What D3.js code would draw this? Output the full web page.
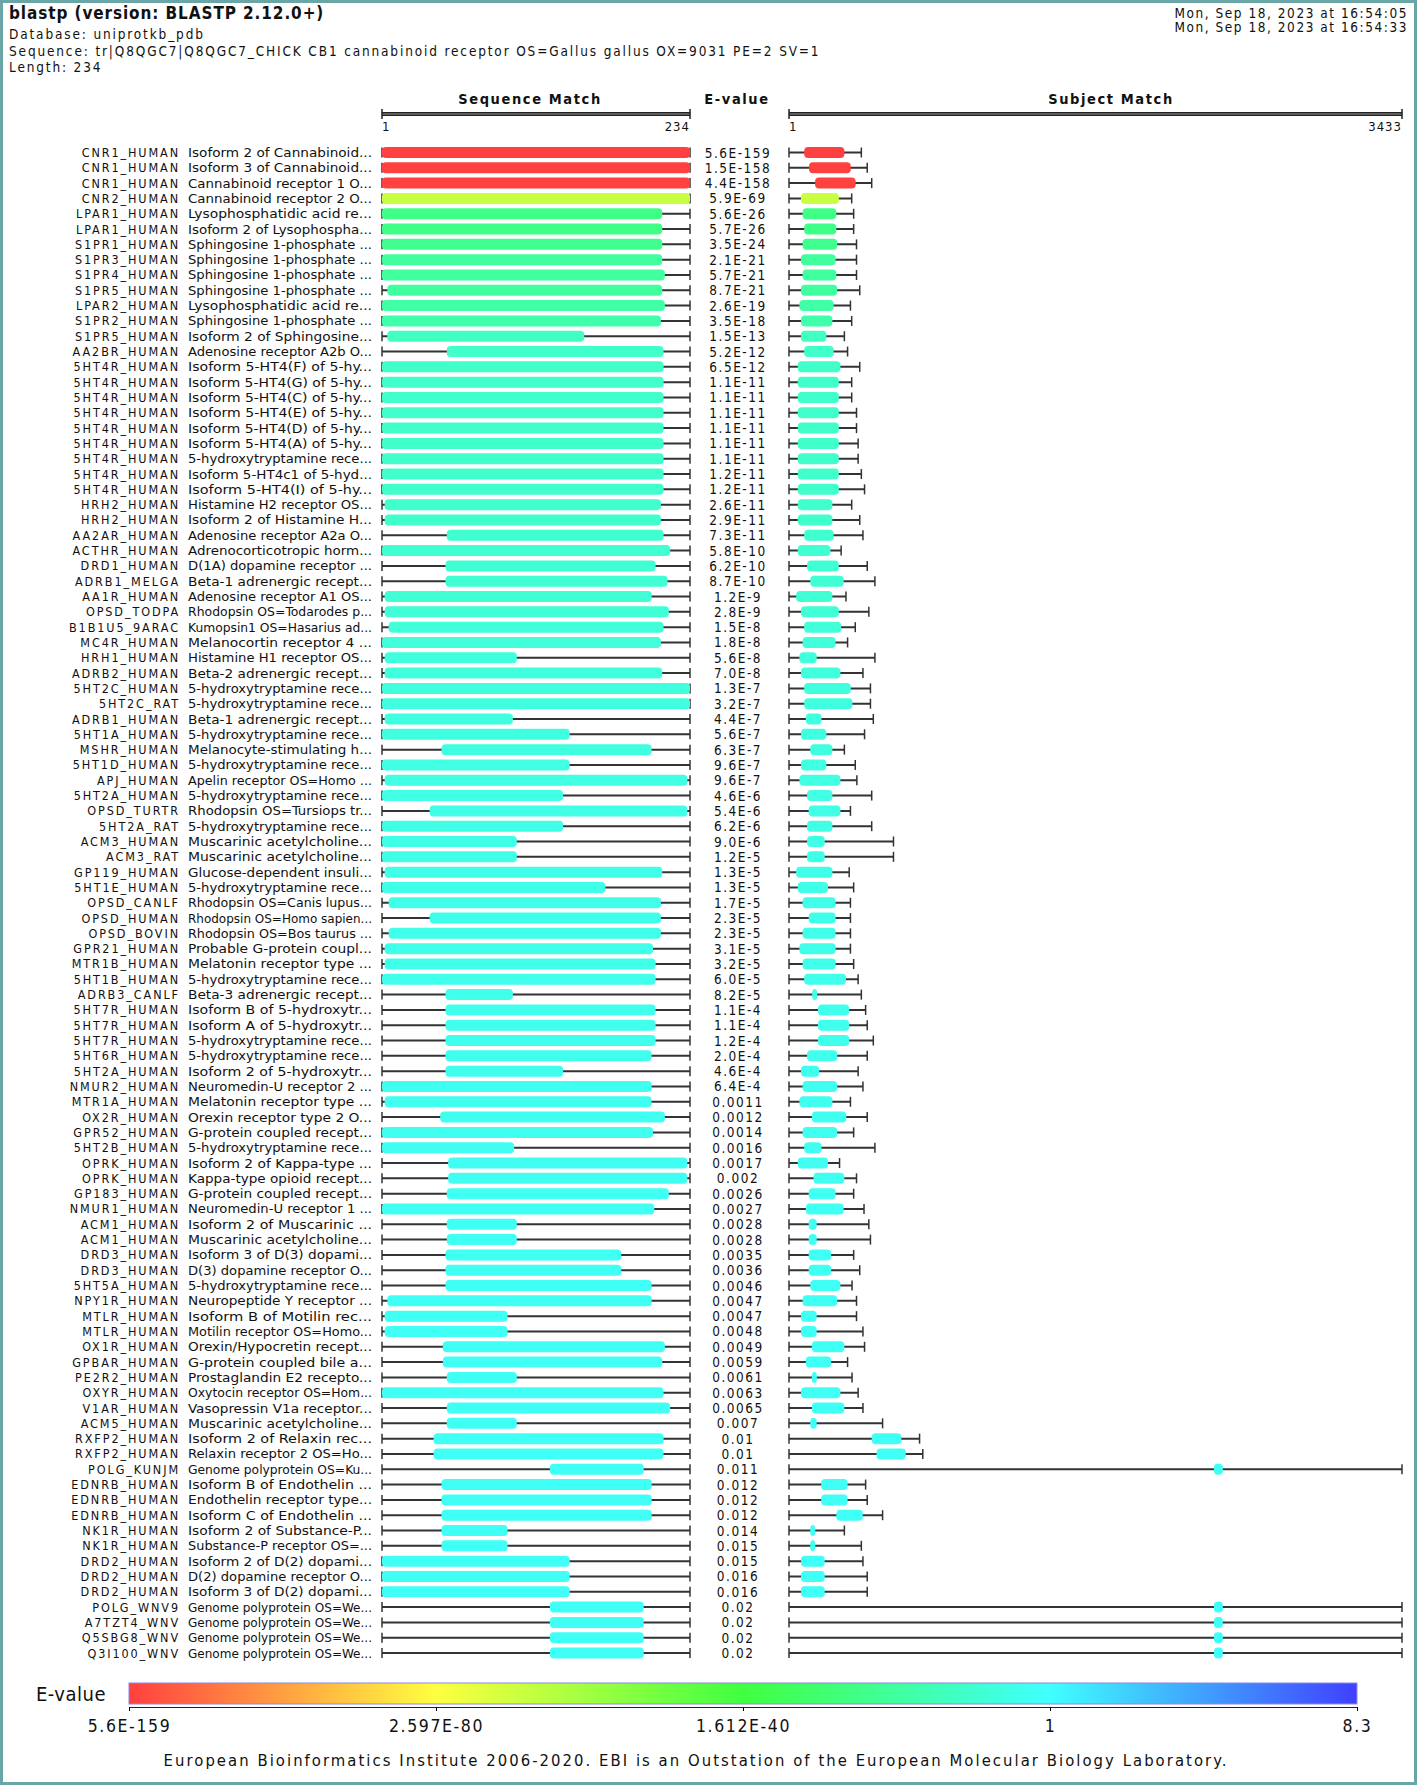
<!DOCTYPE html>
<html>
<head>
<meta charset="utf-8">
<script src="https://cdn.jsdelivr.net/npm/d3@7"></script>
<style>
  body { margin: 0; background: #fff; }
  svg text { font-family: "DejaVu Sans Condensed", "DejaVu Sans", sans-serif; font-stretch: condensed; fill: #111; }
</style>
</head>
<body>
<svg id="chart" width="1417" height="1785"></svg>
<script>
// hit table, one entry per row
const ids = ["CNR1_HUMAN","CNR1_HUMAN","CNR1_HUMAN","CNR2_HUMAN","LPAR1_HUMAN","LPAR1_HUMAN","S1PR1_HUMAN","S1PR3_HUMAN","S1PR4_HUMAN","S1PR5_HUMAN",
  "LPAR2_HUMAN","S1PR2_HUMAN","S1PR5_HUMAN","AA2BR_HUMAN","5HT4R_HUMAN","5HT4R_HUMAN","5HT4R_HUMAN","5HT4R_HUMAN","5HT4R_HUMAN","5HT4R_HUMAN",
  "5HT4R_HUMAN","5HT4R_HUMAN","5HT4R_HUMAN","HRH2_HUMAN","HRH2_HUMAN","AA2AR_HUMAN","ACTHR_HUMAN","DRD1_HUMAN","ADRB1_MELGA","AA1R_HUMAN",
  "OPSD_TODPA","B1B1U5_9ARAC","MC4R_HUMAN","HRH1_HUMAN","ADRB2_HUMAN","5HT2C_HUMAN","5HT2C_RAT","ADRB1_HUMAN","5HT1A_HUMAN","MSHR_HUMAN",
  "5HT1D_HUMAN","APJ_HUMAN","5HT2A_HUMAN","OPSD_TURTR","5HT2A_RAT","ACM3_HUMAN","ACM3_RAT","GP119_HUMAN","5HT1E_HUMAN","OPSD_CANLF",
  "OPSD_HUMAN","OPSD_BOVIN","GPR21_HUMAN","MTR1B_HUMAN","5HT1B_HUMAN","ADRB3_CANLF","5HT7R_HUMAN","5HT7R_HUMAN","5HT7R_HUMAN","5HT6R_HUMAN",
  "5HT2A_HUMAN","NMUR2_HUMAN","MTR1A_HUMAN","OX2R_HUMAN","GPR52_HUMAN","5HT2B_HUMAN","OPRK_HUMAN","OPRK_HUMAN","GP183_HUMAN","NMUR1_HUMAN",
  "ACM1_HUMAN","ACM1_HUMAN","DRD3_HUMAN","DRD3_HUMAN","5HT5A_HUMAN","NPY1R_HUMAN","MTLR_HUMAN","MTLR_HUMAN","OX1R_HUMAN","GPBAR_HUMAN",
  "PE2R2_HUMAN","OXYR_HUMAN","V1AR_HUMAN","ACM5_HUMAN","RXFP2_HUMAN","RXFP2_HUMAN","POLG_KUNJM","EDNRB_HUMAN","EDNRB_HUMAN","EDNRB_HUMAN",
  "NK1R_HUMAN","NK1R_HUMAN","DRD2_HUMAN","DRD2_HUMAN","DRD2_HUMAN","POLG_WNV9","A7TZT4_WNV","Q5SBG8_WNV","Q3I100_WNV"];
const descs = ["Isoform 2 of Cannabinoid...","Isoform 3 of Cannabinoid...","Cannabinoid receptor 1 O...","Cannabinoid receptor 2 O...","Lysophosphatidic acid re...",
  "Isoform 2 of Lysophospha...","Sphingosine 1-phosphate ...","Sphingosine 1-phosphate ...","Sphingosine 1-phosphate ...","Sphingosine 1-phosphate ...",
  "Lysophosphatidic acid re...","Sphingosine 1-phosphate ...","Isoform 2 of Sphingosine...","Adenosine receptor A2b O...","Isoform 5-HT4(F) of 5-hy...",
  "Isoform 5-HT4(G) of 5-hy...","Isoform 5-HT4(C) of 5-hy...","Isoform 5-HT4(E) of 5-hy...","Isoform 5-HT4(D) of 5-hy...","Isoform 5-HT4(A) of 5-hy...",
  "5-hydroxytryptamine rece...","Isoform 5-HT4c1 of 5-hyd...","Isoform 5-HT4(I) of 5-hy...","Histamine H2 receptor OS...","Isoform 2 of Histamine H...",
  "Adenosine receptor A2a O...","Adrenocorticotropic horm...","D(1A) dopamine receptor ...","Beta-1 adrenergic recept...","Adenosine receptor A1 OS...",
  "Rhodopsin OS=Todarodes p...","Kumopsin1 OS=Hasarius ad...","Melanocortin receptor 4 ...","Histamine H1 receptor OS...","Beta-2 adrenergic recept...",
  "5-hydroxytryptamine rece...","5-hydroxytryptamine rece...","Beta-1 adrenergic recept...","5-hydroxytryptamine rece...","Melanocyte-stimulating h...",
  "5-hydroxytryptamine rece...","Apelin receptor OS=Homo ...","5-hydroxytryptamine rece...","Rhodopsin OS=Tursiops tr...","5-hydroxytryptamine rece...",
  "Muscarinic acetylcholine...","Muscarinic acetylcholine...","Glucose-dependent insuli...","5-hydroxytryptamine rece...","Rhodopsin OS=Canis lupus...",
  "Rhodopsin OS=Homo sapien...","Rhodopsin OS=Bos taurus ...","Probable G-protein coupl...","Melatonin receptor type ...","5-hydroxytryptamine rece...",
  "Beta-3 adrenergic recept...","Isoform B of 5-hydroxytr...","Isoform A of 5-hydroxytr...","5-hydroxytryptamine rece...","5-hydroxytryptamine rece...",
  "Isoform 2 of 5-hydroxytr...","Neuromedin-U receptor 2 ...","Melatonin receptor type ...","Orexin receptor type 2 O...","G-protein coupled recept...",
  "5-hydroxytryptamine rece...","Isoform 2 of Kappa-type ...","Kappa-type opioid recept...","G-protein coupled recept...","Neuromedin-U receptor 1 ...",
  "Isoform 2 of Muscarinic ...","Muscarinic acetylcholine...","Isoform 3 of D(3) dopami...","D(3) dopamine receptor O...","5-hydroxytryptamine rece...",
  "Neuropeptide Y receptor ...","Isoform B of Motilin rec...","Motilin receptor OS=Homo...","Orexin/Hypocretin recept...","G-protein coupled bile a...",
  "Prostaglandin E2 recepto...","Oxytocin receptor OS=Hom...","Vasopressin V1a receptor...","Muscarinic acetylcholine...","Isoform 2 of Relaxin rec...",
  "Relaxin receptor 2 OS=Ho...","Genome polyprotein OS=Ku...","Isoform B of Endothelin ...","Endothelin receptor type...","Isoform C of Endothelin ...",
  "Isoform 2 of Substance-P...","Substance-P receptor OS=...","Isoform 2 of D(2) dopami...","D(2) dopamine receptor O...","Isoform 3 of D(2) dopami...",
  "Genome polyprotein OS=We...","Genome polyprotein OS=We...","Genome polyprotein OS=We...","Genome polyprotein OS=We..."];
const evalues = ["5.6E-159","1.5E-158","4.4E-158","5.9E-69","5.6E-26","5.7E-26","3.5E-24","2.1E-21","5.7E-21","8.7E-21",
  "2.6E-19","3.5E-18","1.5E-13","5.2E-12","6.5E-12","1.1E-11","1.1E-11","1.1E-11","1.1E-11","1.1E-11",
  "1.1E-11","1.2E-11","1.2E-11","2.6E-11","2.9E-11","7.3E-11","5.8E-10","6.2E-10","8.7E-10","1.2E-9",
  "2.8E-9","1.5E-8","1.8E-8","5.6E-8","7.0E-8","1.3E-7","3.2E-7","4.4E-7","5.6E-7","6.3E-7",
  "9.6E-7","9.6E-7","4.6E-6","5.4E-6","6.2E-6","9.0E-6","1.2E-5","1.3E-5","1.3E-5","1.7E-5",
  "2.3E-5","2.3E-5","3.1E-5","3.2E-5","6.0E-5","8.2E-5","1.1E-4","1.1E-4","1.2E-4","2.0E-4",
  "4.6E-4","6.4E-4","0.0011","0.0012","0.0014","0.0016","0.0017","0.002","0.0026","0.0027",
  "0.0028","0.0028","0.0035","0.0036","0.0046","0.0047","0.0047","0.0048","0.0049","0.0059",
  "0.0061","0.0063","0.0065","0.007","0.01","0.01","0.011","0.012","0.012","0.012",
  "0.014","0.015","0.015","0.016","0.016","0.02","0.02","0.02","0.02"];
const qStart = [1,1,1,1,1,1,1,1,1,5, 1,1,5,50,1,1,1,1,1,1, 1,1,1,3,3,50,1,49,49,3,
  3,6,1,3,3,1,1,3,1,46, 1,3,1,37,1,1,1,3,1,6, 37,6,3,3,1,49,49,49,49,49,
  49,1,3,45,1,1,51,51,50,1, 50,50,49,49,49,5,3,3,47,47, 50,1,50,50,40,40,128,46,46,46,
  46,46,1,1,1,128,128,128,128];
const qEnd = [234,234,234,234,213,213,213,213,215,213, 215,212,154,214,214,214,214,214,214,214, 214,214,214,212,212,214,219,208,217,205,
  218,214,212,103,213,234,234,100,143,205, 143,232,138,232,138,103,103,213,170,212, 212,212,206,208,208,100,208,208,208,205,
  138,205,205,215,206,101,232,232,218,207, 103,103,182,182,205,205,96,96,215,213, 103,214,219,103,214,214,199,205,205,205,
  96,96,143,143,143,199,199,199,199];
const sStart = [86,113,147,68,77,86,77,68,77,68, 59,68,68,86,50,50,50,50,50,50, 50,50,50,50,50,86,50,102,120,41,
  68,86,77,59,68,86,86,95,68,120, 68,59,102,111,102,102,102,41,50,77, 111,77,59,77,86,131,163,163,163,102,
  68,77,59,129,77,86,50,138,111,95, 111,111,111,111,120,77,68,68,129,95, 129,68,129,120,464,491,2380,181,181,266,
  120,120,68,68,68,2380,2380,2380,2380];
const sEnd = [311,347,374,280,266,266,271,262,266,271, 251,244,210,251,289,280,280,280,280,280, 280,280,280,244,244,251,233,280,307,244,
  280,293,262,156,289,347,356,183,210,244, 210,289,244,289,244,201,201,244,219,262, 262,262,262,262,320,156,338,338,338,271,
  170,271,244,322,271,183,219,311,262,307, 156,156,237,237,289,271,156,156,311,237, 156,289,311,156,630,655,2430,329,329,414,
  138,138,201,201,201,2430,2430,2430,2430];
const sLen = [406,439,464,352,363,363,379,379,379,397, 345,352,311,329,397,352,352,379,379,388, 388,406,424,352,397,415,293,439,482,320,
  448,372,329,482,415,457,457,473,424,311, 372,381,464,345,464,586,586,338,363,345, 345,345,345,363,388,406,430,439,473,439,
  388,415,345,439,363,482,284,379,363,421, 448,457,363,397,354,379,379,415,424,329, 354,388,415,525,732,750,3433,430,439,525,
  311,406,415,439,439,3433,3433,3433,3433];
const queryLen = 234;
const subjectMax = 3433;
const legendLabels = ["5.6E-159","2.597E-80","1.612E-40","1","8.3"];
const legendStops = [5.6e-159, 2.597e-80, 1.612e-40, 1, 8.3];
const legendColors = ["#ff4040","#ffff40","#40ff40","#40ffff","#4040ff"];

const svg = d3.select('#chart');
const W = 1417, H = 1785;

// frame
svg.append('rect').attr('x', 1.5).attr('y', 1.5).attr('width', W - 3).attr('height', H - 3)
  .attr('fill', '#fff').attr('stroke', '#6aa5a8').attr('stroke-width', 3);

// header
svg.append('text').attr('x', 9).attr('y', 19).attr('font-size', 17).attr('font-weight', 'bold')
  .attr('letter-spacing', 0.9).text('blastp (version: BLASTP 2.12.0+)');
const info = ['Database: uniprotkb_pdb',
  'Sequence: tr|Q8QGC7|Q8QGC7_CHICK CB1 cannabinoid receptor OS=Gallus gallus OX=9031 PE=2 SV=1',
  'Length: 234'];
svg.selectAll('text.info').data(info).join('text').attr('class', 'info')
  .attr('x', 9).attr('y', (d, i) => 39 + i * 16.5).attr('font-size', 13.5).attr('letter-spacing', 1.85).text(d => d);
svg.selectAll('text.date').data(['Mon, Sep 18, 2023 at 16:54:05', 'Mon, Sep 18, 2023 at 16:54:33']).join('text')
  .attr('class', 'date').attr('x', 1408).attr('y', (d, i) => 18 + i * 14).attr('text-anchor', 'end')
  .attr('font-size', 13.5).attr('letter-spacing', 1.55).text(d => d);

const xq = d3.scaleLinear().domain([1, queryLen]).range([382, 690]);
const xs = d3.scaleLinear().domain([1, subjectMax]).range([789, 1402]);
const y = d3.scaleLinear().domain([0, ids.length - 1]).range([152.5, 1653]);
const color = d3.scaleLinear().domain(legendStops.map(v => Math.log10(v))).range(legendColors).clamp(true);

// column headings and axes
[['Sequence Match', 530], ['E-value', 737], ['Subject Match', 1111]].forEach(([t, x]) => {
  svg.append('text').attr('x', x).attr('y', 104).attr('text-anchor', 'middle')
    .attr('font-size', 14.5).attr('font-weight', 'bold').attr('letter-spacing', 1.6).text(t);
});
function topAxis(scale, hi) {
  const g = svg.append('g');
  const [a, b] = scale.range();
  g.append('line').attr('x1', a).attr('x2', b).attr('y1', 114).attr('y2', 114)
    .attr('stroke', '#222').attr('stroke-width', 4);
  g.append('line').attr('x1', a).attr('x2', b).attr('y1', 114).attr('y2', 114)
    .attr('stroke', '#999').attr('stroke-width', 1);
  [a, b].forEach(x => g.append('line').attr('x1', x).attr('x2', x).attr('y1', 109).attr('y2', 119)
    .attr('stroke', '#222').attr('stroke-width', 1.5));
  g.append('text').attr('x', a).attr('y', 131).attr('font-size', 13).text('1');
  g.append('text').attr('x', b).attr('y', 131).attr('font-size', 13).attr('text-anchor', 'end').attr('letter-spacing', 1).text(hi);
}
topAxis(xq, queryLen);
topAxis(xs, subjectMax);

const rows = ids.map((id, i) => ({ id, desc: descs[i], ev: evalues[i], qs: qStart[i], qe: qEnd[i], ss: sStart[i], se: sEnd[i], sl: sLen[i] }));
const g = svg.selectAll('g.row').data(rows).join('g').attr('class', 'row')
  .attr('transform', (d, i) => `translate(0,${y(i)})`);

g.append('text').attr('x', 180).attr('y', 4.5).attr('text-anchor', 'end').attr('font-size', 12.5)
  .attr('letter-spacing', 1.9).text(d => d.id);
g.append('text').attr('x', 188).attr('y', 4.5).attr('font-size', 12.5)
  .attr('textLength', 184).attr('lengthAdjust', 'spacingAndGlyphs').text(d => d.desc);
g.append('text').attr('x', 738).attr('y', 5).attr('text-anchor', 'middle').attr('font-size', 13.5)
  .attr('letter-spacing', 1.5).text(d => d.ev);

function track(sel, scale, lenFn, s0, s1) {
  sel.append('line').attr('x1', scale(1)).attr('x2', d => scale(lenFn(d))).attr('y1', 0).attr('y2', 0)
    .attr('stroke', '#333').attr('stroke-width', 2);
  sel.append('line').attr('x1', scale(1)).attr('x2', scale(1)).attr('y1', -5).attr('y2', 5)
    .attr('stroke', '#333').attr('stroke-width', 1.5);
  sel.append('line').attr('x1', d => scale(lenFn(d))).attr('x2', d => scale(lenFn(d))).attr('y1', -5).attr('y2', 5)
    .attr('stroke', '#333').attr('stroke-width', 1.5);
  sel.append('rect').attr('x', d => scale(s0(d))).attr('y', -5.5)
    .attr('width', d => Math.max(5, scale(s1(d)) - scale(s0(d)))).attr('height', 11)
    .attr('rx', 4).attr('fill', d => color(Math.log10(+d.ev)));
}
track(g, xq, () => queryLen, d => d.qs, d => d.qe);
track(g, xs, d => d.sl, d => d.ss, d => d.se);

// colour legend
const defs = svg.append('defs');
const grad = defs.append('linearGradient').attr('id', 'evgrad');
legendColors.forEach((c, i) => grad.append('stop').attr('offset', i / (legendColors.length - 1)).attr('stop-color', c));
svg.append('rect').attr('x', 129).attr('y', 1683).attr('width', 1228).attr('height', 21)
  .attr('fill', 'url(#evgrad)').attr('stroke', '#8888ee').attr('stroke-width', 1);
svg.append('text').attr('x', 36).attr('y', 1701).attr('font-size', 20).attr('letter-spacing', 0.5).text('E-value');
const lx = d3.scalePoint().domain(legendLabels).range([129, 1357]);
const lg = svg.append('g').attr('transform', 'translate(0,1707)').call(d3.axisBottom(lx).tickSize(4));
lg.select('.domain').attr('stroke', '#222');
lg.selectAll('text').attr('font-size', 17.5).attr('dy', '1.05em').attr('letter-spacing', 1.6)
  .style('font-family', '"DejaVu Sans Condensed", "DejaVu Sans", sans-serif');

svg.append('text').attr('x', 696).attr('y', 1766).attr('text-anchor', 'middle').attr('font-size', 16.5)
  .attr('letter-spacing', 2.05)
  .text('European Bioinformatics Institute 2006-2020. EBI is an Outstation of the European Molecular Biology Laboratory.');
</script>
</body>
</html>
